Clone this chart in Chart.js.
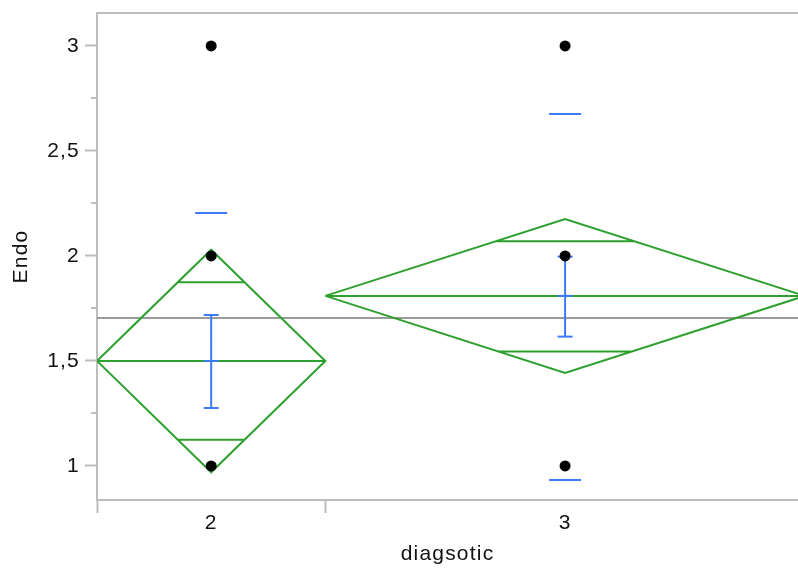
<!DOCTYPE html>
<html>
<head>
<meta charset="utf-8">
<script src="https://cdn.jsdelivr.net/npm/chart.js@4.4.0/dist/chart.umd.min.js"></script>
<style>
  html, body { margin: 0; padding: 0; background: #fff; }
</style>
</head>
<body>
<canvas id="chart" width="798" height="568"></canvas>
<script>
/* ================================
   Data
================================ */
const groups = ["2", "3"];
const groupN = [10, 21];
const groupPoints = [[3, 2, 1], [3, 2, 1]];
const groupMeans = [1.5, 1.81];
const diamondLow = [0.97, 1.443];
const diamondHigh = [2.03, 2.176];
const overlapLow = [1.125, 1.545];
const overlapHigh = [1.875, 2.07];
const errLow = [1.276, 1.616];
const errHigh = [1.719, 1.997];
const sdLow = [null, 0.933];
const sdHigh = [2.205, 2.676];
const grandMean = 1.705;

const yTicks = [1, 1.25, 1.5, 1.75, 2, 2.25, 2.5, 2.75, 3];
const yMin = 0.838;
const yMax = 3.157;
const xMax = 30.7;

/* ================================
   Styles
================================ */
const green = "#2ea02e";
const blue = "#3d7bf7";
const meanGray = "#9a9a9a";
const axisGray = "#bdbdbd";
const textColor = "#111";
const font = { family: "'Liberation Sans', Arial, sans-serif", size: 21 };

/* ================================
   Group extents along x
================================ */
const starts = [], ends = [], centers = [];
let acc = 0;
groupN.forEach(n => {
    starts.push(acc);
    centers.push(acc + n / 2);
    acc += n;
    ends.push(acc);
});
const boundaries = starts.slice();

const isMajorY = v => Math.abs(v * 2 - Math.round(v * 2)) < 1e-9;
const isCenter = v => centers.some(c => Math.abs(c - v) < 1e-9);
const gap = x => ({ x: x, y: null });

function diamondData() {
    const pts = [];
    groups.forEach((g, i) => {
        const s = starts[i], e = ends[i], c = centers[i], m = groupMeans[i];
        pts.push({ x: s, y: m }, { x: c, y: diamondHigh[i] }, { x: e, y: m },
                 { x: c, y: diamondLow[i] }, { x: s, y: m }, gap(s));
        pts.push({ x: s, y: m }, { x: e, y: m }, gap(e));
        [overlapHigh[i], overlapLow[i]].forEach(v => {
            const tip = v > m ? diamondHigh[i] : diamondLow[i];
            const half = (e - s) / 2 * (1 - (v - m) / (tip - m));
            pts.push({ x: c - half, y: v }, { x: c + half, y: v }, gap(c));
        });
    });
    return pts;
}

function errorBarData() {
    const pts = [];
    groups.forEach((g, i) => {
        pts.push({ x: centers[i], y: errLow[i] }, { x: centers[i], y: errHigh[i] }, gap(centers[i]));
    });
    return pts;
}

const capData = [];
groups.forEach((g, i) => {
    [errLow[i], errHigh[i], groupMeans[i]].forEach(v => capData.push({ x: centers[i], y: v }));
});

const sdData = [];
groups.forEach((g, i) => {
    [sdLow[i], sdHigh[i]].forEach(v => { if (v !== null) sdData.push({ x: centers[i], y: v }); });
});

const pointData = [];
groups.forEach((g, i) => {
    groupPoints[i].forEach(v => pointData.push({ x: centers[i], y: v }));
});

/* ================================
   Plugins: wider text, minor y ticks
================================ */
const textSpacing = {
    id: "textSpacing",
    afterInit(chart) { chart.ctx.letterSpacing = "1.2px"; },
    beforeUpdate(chart) { chart.ctx.letterSpacing = "1.2px"; },
    beforeDraw(chart) { chart.ctx.letterSpacing = "1.2px"; }
};

const minorTicks = {
    id: "minorTicks",
    afterDraw(chart) {
        const y = chart.scales.y;
        const ctx = chart.ctx;
        ctx.save();
        ctx.strokeStyle = axisGray;
        ctx.lineWidth = 2;
        yTicks.filter(v => !isMajorY(v)).forEach(v => {
            const py = Math.round(y.getPixelForValue(v));
            ctx.beginPath();
            ctx.moveTo(y.right - 6, py);
            ctx.lineTo(y.right, py);
            ctx.stroke();
        });
        ctx.restore();
    }
};

// no automatic edge padding from the axes
function noEdgePadding(s) {
    s.paddingTop = 0;
    s.paddingBottom = 0;
    s.paddingLeft = 0;
    s.paddingRight = 0;
}

/* ================================
   Chart
================================ */
new Chart(document.getElementById("chart"), {
    type: "scatter",
    data: {
        datasets: [
            {
                type: "line",
                data: [{ x: 0, y: grandMean }, { x: acc, y: grandMean }],
                borderColor: meanGray,
                borderWidth: 2,
                pointRadius: 0,
                order: 5
            },
            {
                type: "line",
                data: diamondData(),
                borderColor: green,
                borderWidth: 2,
                pointRadius: 0,
                spanGaps: false,
                tension: 0,
                order: 4
            },
            {
                type: "line",
                data: errorBarData(),
                borderColor: blue,
                borderWidth: 2,
                pointRadius: 0,
                spanGaps: false,
                order: 3
            },
            {
                data: capData,
                pointStyle: "line",
                pointRadius: 7.5,
                borderColor: blue,
                borderWidth: 2,
                order: 3
            },
            {
                data: sdData,
                pointStyle: "line",
                pointRadius: 16,
                borderColor: blue,
                borderWidth: 2,
                order: 3
            },
            {
                data: pointData,
                pointStyle: "circle",
                pointRadius: 5.5,
                backgroundColor: "#000",
                borderColor: "#000",
                borderWidth: 0,
                order: 1
            }
        ]
    },
    options: {
        responsive: false,
        animation: false,
        events: [],
        layout: { autoPadding: false, padding: { top: 13, right: 0, left: 0, bottom: 0 } },
        plugins: {
            legend: { display: false },
            tooltip: { enabled: false }
        },
        scales: {
            x: {
                type: "linear",
                position: "bottom",
                min: 0,
                max: xMax,
                afterBuildTicks: s => {
                    s.ticks = boundaries.concat(centers).sort((a, b) => a - b).map(v => ({ value: v }));
                },
                afterFit: s => { s.height = 68; noEdgePadding(s); },
                ticks: {
                    autoSkip: false,
                    maxRotation: 0,
                    padding: -2,
                    color: textColor,
                    font: font,
                    callback: v => {
                        const i = centers.findIndex(c => Math.abs(c - v) < 1e-9);
                        return i >= 0 ? groups[i] : "";
                    }
                },
                grid: {
                    drawOnChartArea: false,
                    drawTicks: true,
                    tickLength: 13,
                    tickWidth: 2,
                    tickColor: ctx => (ctx.tick && isCenter(ctx.tick.value)) ? "rgba(0,0,0,0)" : axisGray
                },
                border: { color: axisGray, width: 2 },
                title: {
                    display: true,
                    text: "diagsotic",
                    color: textColor,
                    font: font,
                    padding: { top: 0, bottom: 1 }
                }
            },
            xTop: {
                type: "linear",
                position: "top",
                min: 0,
                max: xMax,
                afterFit: s => { s.height = 0; noEdgePadding(s); },
                ticks: { display: false },
                grid: { display: false, drawTicks: false },
                border: { color: axisGray, width: 2 }
            },
            y: {
                type: "linear",
                min: yMin,
                max: yMax,
                afterBuildTicks: s => { s.ticks = yTicks.map(v => ({ value: v })); },
                afterFit: s => { s.width = 97; noEdgePadding(s); },
                ticks: {
                    autoSkip: false,
                    padding: 5,
                    color: textColor,
                    font: font,
                    callback: v => isMajorY(v) ? String(v).replace(".", ",") : ""
                },
                grid: {
                    drawOnChartArea: false,
                    drawTicks: true,
                    tickLength: 12,
                    tickWidth: 2,
                    tickColor: ctx => (ctx.tick && isMajorY(ctx.tick.value)) ? axisGray : "rgba(0,0,0,0)"
                },
                border: { color: axisGray, width: 2 },
                title: {
                    display: true,
                    text: "Endo",
                    color: textColor,
                    font: font,
                    padding: { top: 9, bottom: 0 }
                }
            }
        }
    },
    plugins: [textSpacing, minorTicks]
});
</script>
</body>
</html>
